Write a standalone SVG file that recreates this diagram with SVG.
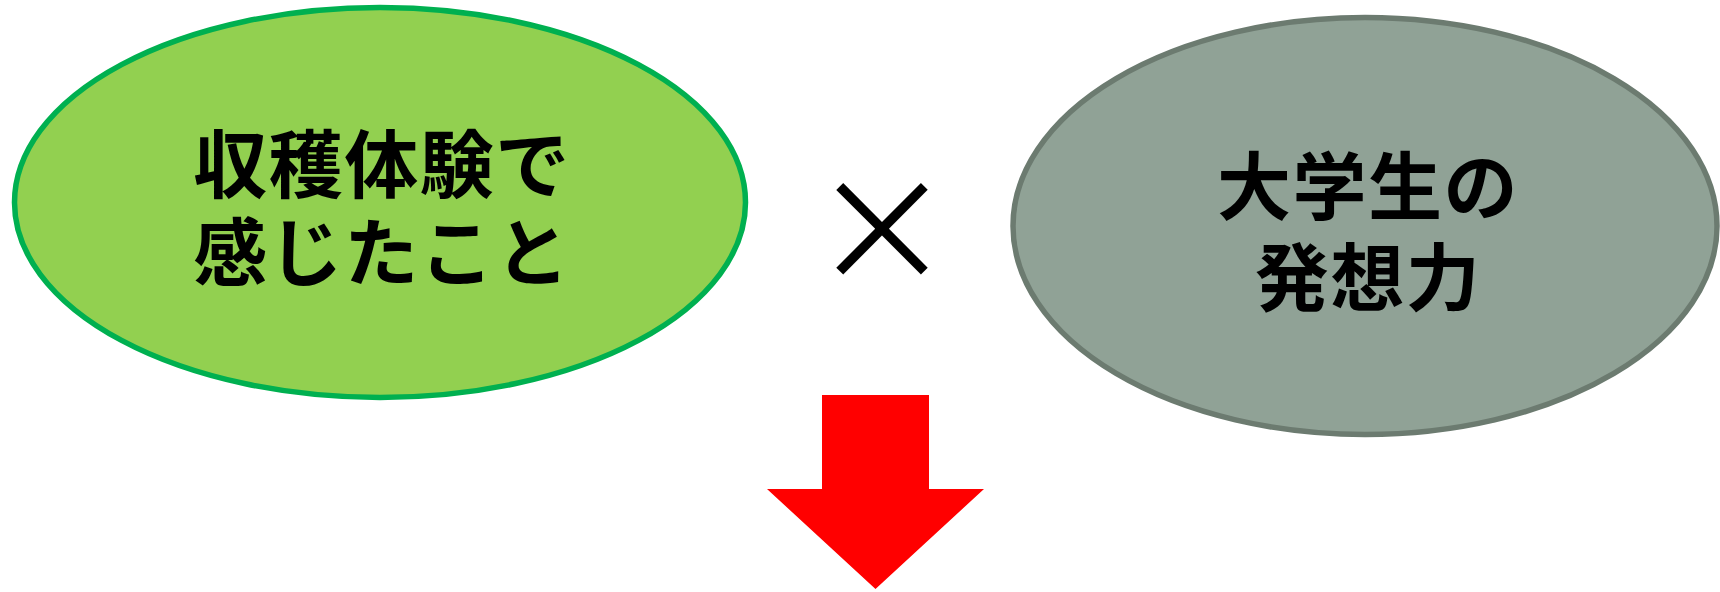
<svg xmlns="http://www.w3.org/2000/svg" width="1720" height="592" viewBox="0 0 1720 592">
<style>
.lbl{font-family:"Noto Sans CJK JP","Noto Sans CJK SC",sans-serif;font-weight:700;font-size:74px;letter-spacing:1.5px;fill:#000;text-anchor:middle}
.times{font-family:"Noto Sans CJK JP",sans-serif;font-weight:400;font-size:142px;fill:#000;text-anchor:middle}
</style>
<rect width="1720" height="592" fill="#fff"/>
<g id="node-harvest">
<ellipse cx="380" cy="202.5" rx="365.5" ry="195" fill="#92D050" stroke="#00B050" stroke-width="5.5"/>
<text class="lbl" x="382" y="192">収穫体験で<tspan x="382" y="280">感じたこと</tspan></text>
</g>
<g id="node-students">
<ellipse cx="1365" cy="226" rx="352" ry="208.5" fill="#90A296" stroke="#6C7B70" stroke-width="5.5"/>
<text class="lbl" x="1368" y="214">大学生の<tspan x="1368" y="305">発想力</tspan></text>
</g>
<g id="node-times">
<text class="times" x="882" y="281.5">×</text>
</g>
<g id="connectors">
<polygon points="822,395 929,395 929,489 984,489 875.5,589 767,489 822,489" fill="#FF0000"/>
</g>
</svg>
